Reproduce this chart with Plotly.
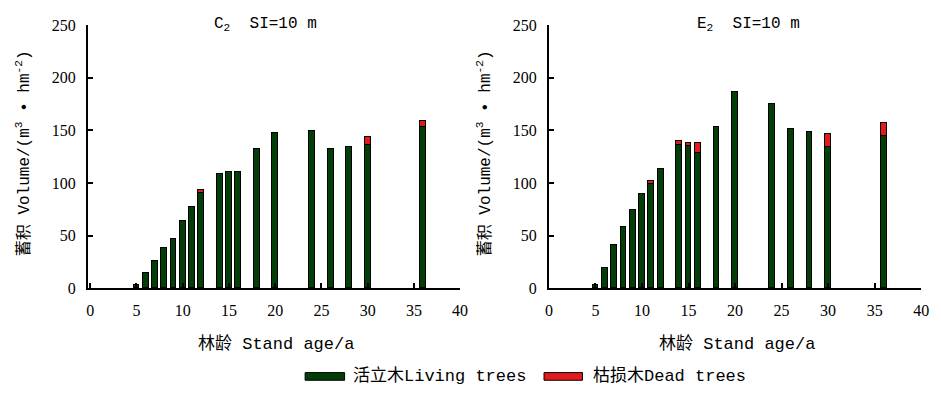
import plotly.graph_objects as go

# ---- data ----
ages = [5, 6, 7, 8, 9, 10, 11, 12, 14, 15, 16, 18, 20, 24, 26, 28, 30, 36]
c2_live = [3, 14, 26, 38, 47, 64, 77, 90, 108, 110, 110, 132, 147, 149, 132, 134, 136, 153]
c2_dead = [0, 0, 0, 0, 0, 0, 0, 3, 0, 0, 0, 0, 0, 0, 0, 0, 8, 6]
e2_live = [3, 19, 41, 58, 74, 89, 99, 113, 136, 135, 128, 153, 186, 175, 151, 148, 134, 145]
e2_dead = [0, 0, 0, 0, 0, 0, 3, 0, 4, 3, 10, 0, 0, 0, 0, 0, 12, 12]
x_ticks = [0, 5, 10, 15, 20, 25, 30, 35, 40]
y_ticks = [0, 50, 100, 150, 200, 250]
live_name = "活立木Living trees"
dead_name = "枯损木Dead trees"
panel_titles = ["C<sub>2</sub>\u00a0\u00a0SI=10\u00a0m", "E<sub>2</sub>\u00a0\u00a0SI=10\u00a0m"]
x_title = "林龄\u00a0Stand\u00a0age/a"
y_title = "蓄积\u00a0Volume/(m<sup>3</sup>\u00a0•\u00a0hm<sup>-2</sup>)"

GREEN = "#033d07"
RED = "#e31a1c"
W, H = 941, 395
MONO = "Liberation Mono, Noto Sans CJK SC, sans-serif"
SERIF = "Liberation Serif, serif"

fig = go.Figure()
for i, (live, dead) in enumerate([(c2_live, c2_dead), (e2_live, e2_dead)]):
    xa = "x" if i == 0 else "x2"
    ya = "y" if i == 0 else "y2"
    fig.add_trace(go.Bar(x=ages, y=live, name=live_name, xaxis=xa, yaxis=ya, width=0.62,
                         marker=dict(color=GREEN, line=dict(color="black", width=1)),
                         showlegend=False))
    dead_plot = [v if v > 0 else None for v in dead]
    fig.add_trace(go.Bar(x=ages, y=dead_plot, name=dead_name, xaxis=xa, yaxis=ya, width=0.62,
                         marker=dict(color=RED, line=dict(color="black", width=1)),
                         showlegend=False))

def px(x):
    return x / W

def py(y):
    return 1 - y / H

y_dom = [py(293), py(18)]
axis_common = dict(showline=True, linecolor="black", linewidth=2, ticks="inside",
                   ticklen=5, tickwidth=2, tickcolor="black", showgrid=False,
                   zeroline=False, tickfont=dict(family=SERIF, size=16, color="black"))

fig.update_layout(
    width=W, height=H, barmode="stack", bargap=0,
    plot_bgcolor="white", paper_bgcolor="white",
    margin=dict(l=0, r=0, t=0, b=0), showlegend=False,
    xaxis=dict(domain=[px(85), px(462)], range=[-0.25, 40], tickvals=x_ticks, anchor="y",
               ticklabelstandoff=6, **axis_common),
    yaxis=dict(domain=y_dom, range=[0, 250], tickvals=y_ticks, anchor="x",
               ticklabelstandoff=7, **axis_common),
    xaxis2=dict(domain=[px(552), px(929)], range=[0, 40], tickvals=x_ticks, anchor="y2",
                ticklabelstandoff=6, **axis_common),
    yaxis2=dict(domain=y_dom, range=[0, 250], tickvals=y_ticks, anchor="x2",
                ticklabelstandoff=7, **axis_common),
)

ann = []
font_lbl = dict(family=MONO, size=17, color="black")
for cx, t in zip([265, 754], panel_titles):
    ann.append(dict(x=px(cx), y=py(17), xref="paper", yref="paper", text=t, showarrow=False,
                    xanchor="center", yanchor="middle", font=dict(family=MONO, size=16, color="black")))
for cx in [276, 742]:
    ann.append(dict(x=px(cx), y=py(351), xref="paper", yref="paper", text=x_title, showarrow=False,
                    xanchor="center", yanchor="middle", font=font_lbl))
for cx in [20, 487]:
    ann.append(dict(x=px(cx), y=py(152), xref="paper", yref="paper", text=y_title, showarrow=False,
                    textangle=-90, xanchor="center", yanchor="middle",
                    font=dict(family=MONO, size=16, color="black")))

# legend (custom, drawn in paper coordinates)
shapes = []
for (x0, x1, col, tx, name) in [(305, 345, GREEN, 351, live_name), (547, 586, RED, 595, dead_name)]:
    shapes.append(dict(type="rect", xref="paper", yref="paper", x0=px(x0), x1=px(x1),
                       y0=py(389), y1=py(381), fillcolor=col, line=dict(color="black", width=1)))
    ann.append(dict(x=px(tx), y=py(385), xref="paper", yref="paper", text=name, showarrow=False,
                    xanchor="left", yanchor="middle", font=font_lbl))

fig.update_layout(annotations=ann, shapes=shapes)
fig.write_html("out.html")
